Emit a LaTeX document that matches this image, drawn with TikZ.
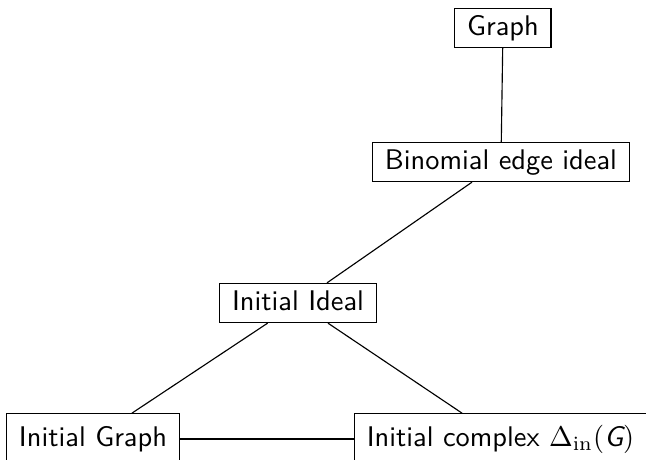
\documentclass[tikz,border=0pt]{standalone}
\begin{document}
\begin{tikzpicture}[x=0.352pt, y=-0.352pt,
  box/.style={draw, font=\sffamily, inner xsep=4.3pt, inner ysep=1.9pt,
              text height=7.5pt, text depth=2.5pt},
  leaf/.style={box, minimum height=17.8pt},
  link/.style={draw, line width=0.4pt}]
  % frame of the figure; the bottom row runs past its edges
  \path[use as bounding box] (0,0) rectangle (646,460);
  \clip (0,0) rectangle (646,460);
  \node[box] (graph)  at (503,28)  {Graph};
  \node[box] (binom)  at (501,162) {Binomial edge ideal};
  \node[box] (ideal)  at (298,303) {Initial Ideal};
  \node[leaf] (igraph) at (93,439)  {Initial Graph};
  \node[leaf, anchor=west] (icomplex) at (354,439) {Initial complex $\Delta_{\mathrm{in}}(\textit{G})$};
  \path[link] (graph) -- (binom);
  \path[link] (binom) -- (ideal);
  \path[link] (ideal) -- (igraph);
  \path[link] (ideal) -- (icomplex);
  \path[link] (igraph) -- (icomplex);
\end{tikzpicture}
\end{document}
